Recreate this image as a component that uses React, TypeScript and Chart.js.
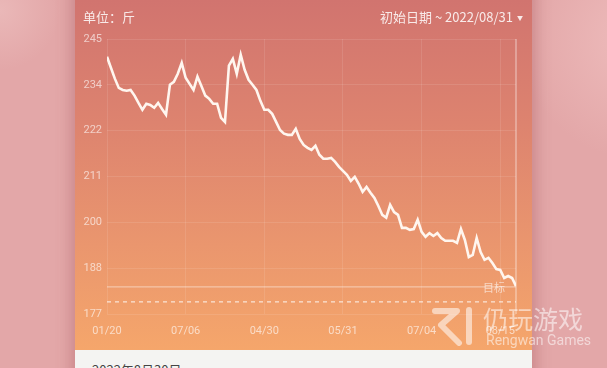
import React, { useEffect, useRef } from "react";
import { Chart, registerables } from "chart.js";

Chart.register(...registerables);

// ---- data ----
const weights: number[] = [
  240.6, 237.9, 235.2, 232.9, 232.4, 232.2, 232.4, 231.0, 229.2, 227.5,
  229.0, 228.7, 228.0, 229.2, 227.7, 226.3, 233.7, 234.4, 236.4, 239.1,
  235.4, 233.9, 232.4, 235.7, 233.4, 231.0, 230.2, 229.0, 229.0, 225.5,
  224.5, 238.4, 240.1, 236.4, 241.1, 237.4, 234.9, 233.7, 232.4, 229.7,
  227.5, 227.5, 226.5, 224.5, 222.5, 221.6, 221.3, 221.3, 222.8, 220.3,
  218.8, 218.1, 217.6, 218.6, 216.4, 215.4, 215.4, 215.6, 214.6, 213.4,
  212.4, 211.4, 209.9, 210.9, 209.2, 207.2, 208.4, 207.0, 205.7, 203.7,
  201.5, 200.8, 204.0, 202.2, 201.5, 198.3, 198.3, 197.8, 198.0, 200.3,
  197.3, 196.1, 197.0, 196.3, 197.0, 195.8, 195.1, 195.1, 195.1, 194.6,
  198.0, 195.3, 191.1, 191.6, 195.8, 192.3, 190.4, 190.9, 189.6, 188.1,
  187.9, 185.9, 186.4, 185.9, 183.9,
];
const xTickLabels = ["01/20", "07/06", "04/30", "05/31", "07/04", "08/15"];
const xTickStep = 20;
const yMin = 177;
const yMax = 245;
const yTickCount = 7;
const targetWeight = 183.7;
const dashedWeight = 180;
const targetLabel = "目标";
const unitLabel = "单位：斤";
const dateRangeLabel = "初始日期 ~ 2022/08/31";
const footerLabel = "2022年8月30日";

const tickColor = "rgba(255,255,255,0.62)";
const gridColor = "rgba(255,255,255,0.1)";
const tickFont = { family: "Roboto, 'Noto Sans CJK SC', sans-serif", size: 11 };

const overlayPlugin = {
  id: "overlayLines",
  beforeDatasetsDraw(chart: any) {
    const { ctx, chartArea, scales } = chart;
    const y = scales.y;
    const x = scales.x;
    ctx.save();
    const xr = x.getPixelForValue(weights.length - 1);
    ctx.strokeStyle = "rgba(255,255,255,0.5)";
    ctx.lineWidth = 1.2;
    ctx.beginPath();
    ctx.moveTo(xr, chartArea.top);
    ctx.lineTo(xr, chartArea.bottom);
    ctx.stroke();
    const yt = y.getPixelForValue(targetWeight);
    ctx.strokeStyle = "rgba(255,255,255,0.42)";
    ctx.lineWidth = 1.2;
    ctx.beginPath();
    ctx.moveTo(chartArea.left, yt);
    ctx.lineTo(xr, yt);
    ctx.stroke();
    const yd = y.getPixelForValue(dashedWeight);
    ctx.strokeStyle = "rgba(255,255,255,0.75)";
    ctx.setLineDash([4, 4]);
    ctx.lineWidth = 1.2;
    ctx.beginPath();
    ctx.moveTo(chartArea.left, yd);
    ctx.lineTo(xr, yd);
    ctx.stroke();
    ctx.setLineDash([]);
    ctx.fillStyle = "rgba(255,255,255,0.6)";
    ctx.font = "11px 'Noto Sans CJK SC', sans-serif";
    ctx.textAlign = "right";
    ctx.textBaseline = "middle";
    ctx.fillText(targetLabel, xr - 11, yt + 1);
    ctx.restore();
  },
};

function WeightChart() {
  const ref = useRef<HTMLCanvasElement | null>(null);
  useEffect(() => {
    if (!ref.current) return;
    const chart = new Chart(ref.current, {
      type: "line",
      data: {
        datasets: [
          {
            data: weights.map((w, i) => ({ x: i, y: w })),
            borderColor: "#fff6ef",
            borderWidth: 2.6,
            pointRadius: 0,
            tension: 0,
            fill: false,
          },
        ],
      },
      options: {
        animation: false,
        responsive: false,
        maintainAspectRatio: false,
        layout: { padding: { left: 0, right: 16, top: 39, bottom: 0 } },
        plugins: { legend: { display: false }, tooltip: { enabled: false } },
        scales: {
          x: {
            type: "linear",
            min: 0,
            max: weights.length - 1,
            afterBuildTicks: (s: any) => {
              s.ticks = xTickLabels.map((_, i) => ({ value: i * xTickStep }));
            },
            afterFit: (s: any) => {
              s.height = 36;
            },
            ticks: {
              callback: (v: any) => xTickLabels[Math.round(Number(v) / xTickStep)] ?? "",
              color: tickColor,
              font: tickFont,
              padding: 11,
              maxRotation: 0,
              autoSkip: false,
            },
            grid: { color: gridColor, drawTicks: false },
            border: { display: false },
          },
          y: {
            type: "linear",
            min: yMin,
            max: yMax,
            afterBuildTicks: (s: any) => {
              const step = (yMax - yMin) / (yTickCount - 1);
              s.ticks = Array.from({ length: yTickCount }, (_, i) => ({ value: yMin + i * step }));
            },
            afterFit: (s: any) => {
              s.width = 32;
            },
            ticks: {
              callback: (v: any) => String(Math.round(Number(v))),
              color: tickColor,
              font: tickFont,
              padding: 5,
            },
            grid: { color: gridColor, drawTicks: false },
            border: { display: false },
          },
        },
      },
      plugins: [overlayPlugin],
    });
    return () => chart.destroy();
  }, []);
  return <canvas ref={ref} width={457} height={350} style={{ position: "absolute", left: 0, top: 0, width: 457, height: 350 }} />;
}

function Logo() {
  return (
    <svg width="46" height="40" viewBox="0 0 46 40" style={{ position: "absolute", left: 432, top: 306 }}>
      <path d="M3 5 H25 L9 19 L27 37" fill="none" stroke="rgba(255,255,255,0.55)" strokeWidth="6" strokeLinejoin="round" strokeLinecap="round" />
      <path d="M37 4 V36" fill="none" stroke="rgba(255,255,255,0.55)" strokeWidth="6" strokeLinecap="round" />
    </svg>
  );
}

export default function App() {
  return (
    <div
      style={{
        position: "fixed",
        left: 0,
        top: 0,
        width: 607,
        height: 368,
        overflow: "hidden",
        background:
          "radial-gradient(circle at 0px 10px, #eab8b8 0px, rgba(234,184,184,0) 60px), radial-gradient(circle at 640px 40px, #eebcbc 0px, rgba(238,188,188,0) 120px), #e3a7a8",
        fontFamily: "'Noto Sans CJK SC', sans-serif",
      }}
    >
      <div
        style={{
          position: "absolute",
          left: 75,
          top: -20,
          width: 457,
          height: 420,
          background: "#f4f4f2",
          boxShadow: "0 0 14px 3px rgba(150,70,75,0.35)",
        }}
      />
      <div
        style={{
          position: "absolute",
          left: 75,
          top: 0,
          width: 457,
          height: 350,
          background: "linear-gradient(180deg, #d1746f 0%, #dd836f 35%, #ea966e 70%, #f5a66b 100%)",
        }}
      >
        <WeightChart />
        <div style={{ position: "absolute", left: 8, top: 8, fontSize: 13, color: "rgba(255,255,255,0.85)", lineHeight: "18px" }}>
          {unitLabel}
        </div>
        <div style={{ position: "absolute", right: 9, top: 8, fontSize: 13, color: "rgba(255,255,255,0.85)", lineHeight: "18px", whiteSpace: "nowrap" }}>
          {dateRangeLabel}
          <span style={{ fontSize: 6, marginLeft: 4, verticalAlign: "middle" }}>▼</span>
        </div>
      </div>
      <div style={{ position: "absolute", left: 92, top: 361, fontSize: 13, color: "#444", lineHeight: "18px", whiteSpace: "nowrap" }}>
        {footerLabel}
      </div>
      <Logo />
      <div style={{ position: "absolute", left: 483, top: 303, fontSize: 25, color: "rgba(255,255,255,0.55)", lineHeight: "30px", whiteSpace: "nowrap" }}>
        仍玩游戏
      </div>
      <div style={{ position: "absolute", left: 486, top: 332, fontSize: 14, color: "rgba(255,255,255,0.55)", lineHeight: "16px", fontFamily: "Roboto, 'Noto Sans', sans-serif", whiteSpace: "nowrap" }}>
        Rengwan Games
      </div>
    </div>
  );
}
